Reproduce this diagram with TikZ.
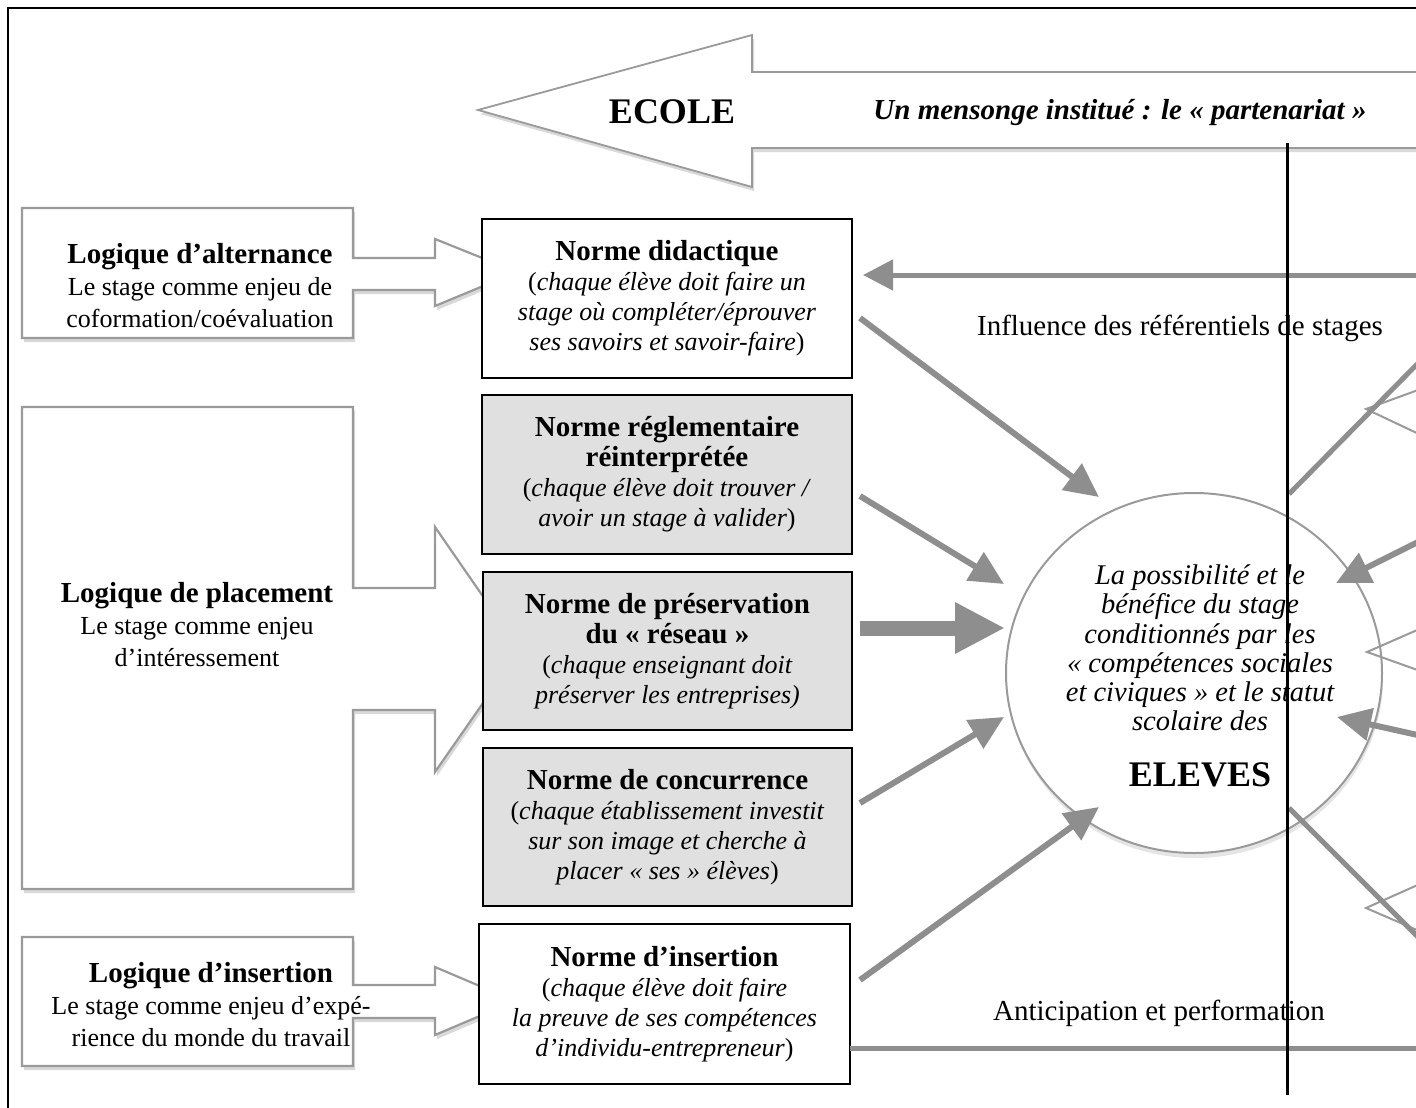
\documentclass[tikz,border=0pt]{standalone}
\usepackage{fontspec}
\setmainfont{Liberation Serif}
\usetikzlibrary{arrows.meta,shadows,shapes.geometric}
\definecolor{outl}{HTML}{9A9A9A}
\definecolor{arr}{HTML}{8E8E8E}
\definecolor{boxg}{HTML}{E0E0E0}
\newcommand\bodyf{\fontsize{26}{30}\selectfont}
\newcommand\ttl[1]{{\bfseries\fontsize{29}{31}\selectfont #1}}
\begin{document}
\begin{tikzpicture}[x=1pt,y=-1pt,
  callout/.style={draw=outl, line width=2.2, fill=white, line join=miter,
    drop shadow={shadow xshift=2pt, shadow yshift=-4pt, opacity=0.15, fill=black}},
  normebox/.style={draw=black, line width=1.3, inner sep=0pt, align=center, font=\bodyf},
  lefttext/.style={align=center, font=\fontsize{26}{32}\selectfont, inner sep=0pt},
  garr/.style={draw=arr, line width=6, -{Triangle[length=34pt,width=32pt]}},
  gline/.style={draw=arr, line width=5},
  hollow/.style={draw=outl, line width=2},
]
\useasboundingbox (0,0) rectangle (1416,1108);
\clip (0,0) rectangle (1416,1108);

% frame
\draw[line width=2.5] (8,1110) -- (8,8) -- (1420,8);

% big ECOLE arrow
\draw[callout, line width=1.8] (1440,72) -- (752,72) -- (752,35) -- (478,110) -- (752,187) -- (752,148) -- (1440,148) -- cycle;
\node (ecole) at (672,112) {\bfseries\fontsize{36}{40}\selectfont ECOLE};
\node (mens) at (1120,113) {\bfseries\itshape\fontsize{29}{32}\selectfont Un mensonge institué : le « partenariat »};

% left callouts
\draw[callout] (22,208) -- (353,208) -- (353,258) -- (435,258) -- (435,239) -- (517,272) -- (435,306) -- (435,290) -- (353,290) -- (353,338) -- (22,338) -- cycle;
\draw[callout] (22,407) -- (353,407) -- (353,588) -- (435,588) -- (435,527) -- (520,650) -- (435,772) -- (435,710) -- (353,710) -- (353,889) -- (22,889) -- cycle;
\draw[callout] (22,937) -- (353,937) -- (353,985) -- (435,985) -- (435,967) -- (515,1001) -- (435,1035) -- (435,1018) -- (353,1018) -- (353,1066) -- (22,1066) -- cycle;

\node[lefttext] (la) at (200,286) {\ttl{Logique d’alternance}\\Le stage comme enjeu de\\coformation/coévaluation};
\node[lefttext] (lp) at (197,625) {\ttl{Logique de placement}\\Le stage comme enjeu\\d’intéressement};
\node[lefttext] (li) at (211,1004.5) {\ttl{Logique d’insertion}\\Le stage comme enjeu d’expé-\\rience du monde du travail};

% norme boxes
\node[normebox, fill=white, minimum width=370pt, minimum height=159pt] (nd) at (667,298.5)
  {\ttl{Norme didactique}\\(\textit{chaque élève doit faire un}\\\textit{stage où compléter/éprouver}\\\textit{ses savoirs et savoir-faire})};
\node[normebox, fill=boxg, minimum width=370pt, minimum height=159pt] (nr) at (667,474.5)
  {\ttl{Norme réglementaire}\\\ttl{réinterprétée}\\(\textit{chaque élève doit trouver /}\\\textit{avoir un stage à valider})};
\node[normebox, fill=boxg, minimum width=369pt, minimum height=158pt] (np) at (667.5,651)
  {\ttl{Norme de préservation}\\\ttl{du « réseau »}\\(\textit{chaque enseignant doit}\\\textit{préserver les entreprises)}};
\node[normebox, fill=boxg, minimum width=369pt, minimum height=158pt] (nc) at (667.5,827)
  {\ttl{Norme de concurrence}\\(\textit{chaque établissement investit}\\\textit{sur son image et cherche à}\\\textit{placer « ses » élèves})};
\node[normebox, fill=white, minimum width=371pt, minimum height=160pt] (ni) at (664.5,1004)
  {\ttl{Norme d’insertion}\\(\textit{chaque élève doit faire}\\\textit{la preuve de ses compétences}\\\textit{d’individu-entrepreneur})};

% central ellipse
\node[ellipse, draw=outl, line width=2, fill=white, minimum width=376pt, minimum height=360pt,
  drop shadow={shadow xshift=1pt, shadow yshift=-5pt, opacity=0.10, fill=black}] (el) at (1194,673) {};
\node[align=center, inner sep=0pt, font=\itshape\fontsize{28.5}{29.2}\selectfont] (eltxt) at (1200,648)
  {La possibilité et le\\bénéfice du stage\\conditionnés par les\\« compétences sociales\\et civiques » et le statut\\scolaire des};
\node[inner sep=0pt] (eleves) at (1200,775) {\bfseries\fontsize{36}{40}\selectfont ELEVES};

% labels
\node (infl) at (1180,328) {\fontsize{29}{32}\selectfont Influence des référentiels de stages};
\node (antic) at (1159,1013) {\fontsize{29}{32}\selectfont Anticipation et performation};

% connector coordinates
\coordinate (a1s) at (860,318);  \coordinate (a1e) at (1099,497);
\coordinate (a2s) at (860,496);  \coordinate (a2e) at (1004,584);
\coordinate (a3s) at (860,628);  \coordinate (a3e) at (1005,628);
\coordinate (a4s) at (860,803);  \coordinate (a4e) at (1004,717);
\coordinate (a5s) at (860,980);  \coordinate (a5e) at (1099,807);
\coordinate (ts) at (1440,275);  \coordinate (te) at (863,275);
\coordinate (bs) at (850,1048);  \coordinate (be) at (1440,1048);
\coordinate (rbs) at (1440,531); \coordinate (rbe) at (1336,583);
\coordinate (rcs) at (1440,740); \coordinate (rce) at (1337,717);
\coordinate (las) at (1289,494); \coordinate (lae) at (1440,341);
\coordinate (lds) at (1289,808); \coordinate (lde) at (1440,959);

% hollow arrow heads on the right
\draw[hollow] (1440,382) -- (1366,409) -- (1440,444);
\draw[hollow] (1440,620) -- (1367,652) -- (1440,678);
\draw[hollow] (1440,875) -- (1366,908) -- (1440,940);

% grey arrows
\draw[garr] (a1s) -- (a1e);
\draw[garr] (a2s) -- (a2e);
\draw[draw=arr, line width=15, -{Triangle[length=50pt,width=48pt]}] (a3s) -- (a3e);
\draw[garr] (a4s) -- (a4e);
\draw[garr] (a5s) -- (a5e);
\draw[draw=arr, line width=5, -{Triangle[length=30pt,width=30pt]}] (ts) -- (te);
\draw[gline] (bs) -- (be);
\draw[garr] (rbs) -- (rbe);
\draw[garr] (rcs) -- (rce);
\draw[gline] (las) -- (lae);
\draw[gline] (lds) -- (lde);

% vertical black line
\coordinate (vt) at (1287,143);
\coordinate (vb) at (1287,1095);
\draw[line width=3] (vt) -- (vb);
\end{tikzpicture}
\end{document}
